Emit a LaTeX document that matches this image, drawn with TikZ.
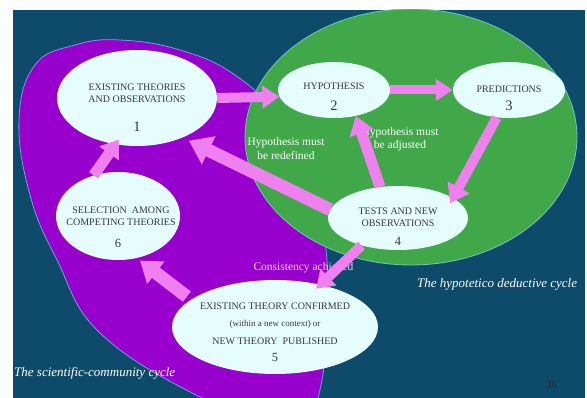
\documentclass[tikz,border=0pt]{standalone}
\usepackage{fontspec}
\setmainfont{Liberation Serif}
\usetikzlibrary{shapes.geometric,arrows.meta}
\definecolor{bgblue}{RGB}{14,74,106}
\definecolor{cyclepurple}{RGB}{152,0,206}
\definecolor{cyclegreen}{RGB}{64,168,72}
\definecolor{bubblefill}{RGB}{230,253,253}
\definecolor{arrowpink}{RGB}{240,128,240}
\definecolor{captext}{RGB}{55,55,60}
\definecolor{lightpink}{RGB}{250,205,250}
\definecolor{rimblue}{RGB}{110,160,230}
\definecolor{rimgreen}{RGB}{110,200,190}
\definecolor{pagenum}{RGB}{32,40,55}
\begin{document}
\begin{tikzpicture}[x=1pt,y=-1pt,
  bubble/.style={ellipse, fill=bubblefill, inner sep=0pt},
  bubbletext/.style={text=captext, align=center, font=\fontsize{10}{12}\selectfont, inner sep=0pt},
  numlabel/.style={text=captext, inner sep=0pt, font=\fontsize{12.5}{14}\selectfont},
  bignumlabel/.style={text=captext, inner sep=0pt, font=\fontsize{14.5}{16}\selectfont},
  notetext/.style={text=white, align=center, font=\fontsize{11.5}{13.5}\selectfont, inner sep=0pt},
  cyclename/.style={text=white, font=\fontsize{13}{15}\selectfont\itshape, inner sep=0pt, anchor=west},
  flow/.style={draw=arrowpink, line width=#1},
]
\fill[white] (0,0) rectangle (587,398);
\useasboundingbox (0,0) rectangle (587,398);
\fill[bgblue] (13,10) rectangle (585,398);
\begin{scope}
  \clip (13,10) rectangle (585,398);
  \filldraw[fill=cyclepurple, draw=rimblue, line width=0.8pt]
    plot[smooth cycle, tension=0.7] coordinates {(19,120) (35,65) (75,45) (120,40) (180,50) (235,75) (280,120) (315,190) (328,290) (318,398) (290,430) (200,397) (100,333) (57,260) (30,195)};
  \filldraw[fill=cyclegreen, draw=rimgreen, line width=0.8pt] (411,137) ellipse [x radius=166pt, y radius=128pt];
\end{scope}

% bubbles
\node[bubble, minimum width=160pt, minimum height=96pt] (n1) at (137,98) {};
\node[bubble, minimum width=112pt, minimum height=56pt] (n2) at (334,90) {};
\node[bubble, minimum width=112pt, minimum height=56pt] (n3) at (509,90) {};
\node[bubble, minimum width=140pt, minimum height=64pt] (n4) at (398,218) {};
\node[bubble, minimum width=206pt, minimum height=94pt] (n5) at (275,327) {};
\node[bubble, minimum width=124pt, minimum height=88pt] (n6) at (118,216) {};

% bubble texts
\node[bubbletext] (t1) at (137,93) {EXISTING THEORIES\\AND OBSERVATIONS};
\node[bignumlabel] (k1) at (137,127) {1};
\node[bubbletext] (t2) at (334,86) {HYPOTHESIS};
\node[bignumlabel] (k2) at (334,106) {2};
\node[bubbletext] (t3) at (509,89) {PREDICTIONS};
\node[bignumlabel] (k3) at (509,106) {3};
\node[bubbletext] (t4) at (398,217) {TESTS AND NEW\\OBSERVATIONS};
\node[numlabel] (k4) at (398,241) {4};
\node[bubbletext, font=\fontsize{10}{17.5}\selectfont] (t5) at (275,323.5) {EXISTING THEORY CONFIRMED\\{\fontsize{9}{17.5}\selectfont (within a new context) or}\\NEW THEORY\ \ PUBLISHED};
\node[numlabel] (k5) at (275,357) {5};
\node[bubbletext] (t6) at (121,216.5) {SELECTION\ \ AMONG\\COMPETING THEORIES};
\node[numlabel] (k6) at (118,243) {6};

% labels
\node[notetext] (r1) at (286,148.5) {Hypothesis must\\be redefined};
\node[notetext] (r2) at (400,139) {Hypothesis must\\be adjusted};
\node[notetext, text=lightpink] (r3) at (303.5,267.5) {Consistency achieved};
\node[cyclename] (c1) at (417,284) {The hypotetico deductive cycle};
\node[cyclename] (c2) at (14,373) {The scientific-community cycle};
\node[text=pagenum, inner sep=0pt, font=\fontsize{10.5}{12}\selectfont] (p36) at (551.5,385) {36};

% arrows
\draw[flow=10pt, -{Triangle[length=17pt,width=22pt]}] (n1.0) -- (n2.187);
\draw[flow=9pt, -{Triangle[length=17pt,width=21pt]}] (n2.0) -- (n3.180);
\draw[flow=10pt, -{Triangle[length=18pt,width=24pt]}, shorten >=-6pt] (n3.246) -- (n4.20);
\draw[flow=11pt, -{Triangle[length=18pt,width=24pt]}] (n4.120) -- (n2.-50);
\draw[flow=13pt, -{Triangle[length=22pt,width=30pt]}, shorten >=7pt] (n4.173) -- (n1.-41);
\draw[flow=10pt, -{Triangle[length=17pt,width=22pt]}, shorten >=-6pt] (n4.217) -- (n5.43);
\draw[flow=13pt, -{Triangle[length=20pt,width=27pt]}, shorten <=5pt, shorten >=4pt] (n5.162) -- (n6.-66);
\draw[flow=11pt, -{Triangle[length=17pt,width=23pt]}, shorten >=-6pt] (n6.121) -- (n1.245);
\end{tikzpicture}
\end{document}
